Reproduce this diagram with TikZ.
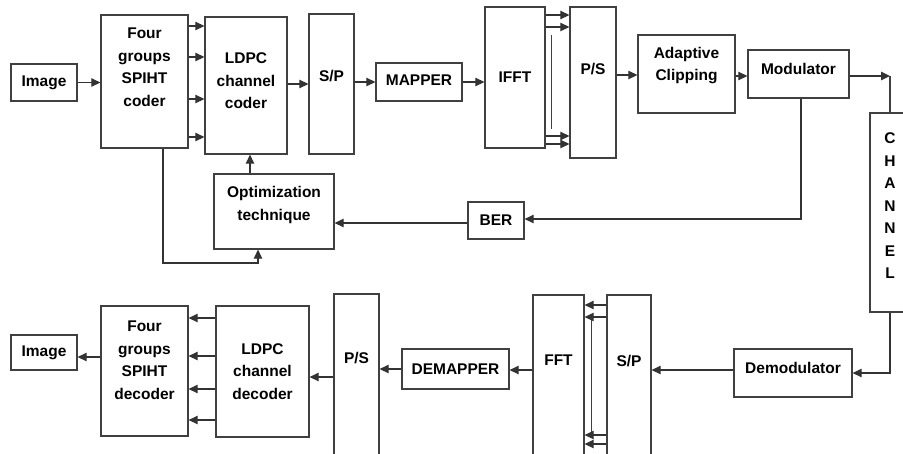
\documentclass[tikz,border=0pt]{standalone}
\usepackage{fontspec}
\setmainfont{Liberation Sans}
\usetikzlibrary{arrows.meta,calc}

\tikzset{
  blk/.style={draw=black!75, line width=1.3pt, fill=white, inner sep=0pt},
  txt/.style={font=\fontsize{15.5pt}{22.5pt}\selectfont\bfseries, align=center},
  arr/.style={draw=black!80, line width=1.2pt, -{Triangle[length=9pt,width=8.5pt]}},
  ln/.style={draw=black!75, line width=1.2pt}
}

\begin{document}
\begin{tikzpicture}[x=1pt, y=-1pt]
  \useasboundingbox (0,0) rectangle (903,453);

  % transmitter
  \node[blk, minimum width=66pt, minimum height=37pt, label={[txt]center:Image}] (img1) at (44,82.5) {};
  \node[blk, minimum width=87pt, minimum height=133pt, label={[txt, yshift=14.5pt]center:Four\\groups\\SPIHT\\coder}] (spc) at (144.5,81.5) {};
  \node[blk, minimum width=82pt, minimum height=137pt, label={[txt, yshift=4.5pt]center:LDPC\\channel\\coder}] (ldc) at (246,85.5) {};
  \node[blk, minimum width=45pt, minimum height=140pt, label={[txt, yshift=8pt]center:S/P}] (sp1) at (331.5,84) {};
  \node[blk, minimum width=86pt, minimum height=38pt, label={[txt, yshift=2pt]center:MAPPER}] (map) at (419,82) {};
  \node[blk, minimum width=60pt, minimum height=141pt, label={[txt]center:IFFT}] (ifft) at (515,77.5) {};
  \node[blk, minimum width=46pt, minimum height=151pt, label={[txt, yshift=13pt]center:P/S}] (ps1) at (593,82.5) {};
  \node[blk, minimum width=97pt, minimum height=78pt, label={[txt, yshift=8.5pt]center:Adaptive\\Clipping}] (clip) at (686.5,74) {};
  \node[blk, minimum width=101pt, minimum height=48pt, label={[txt, yshift=5pt]center:Modulator}] (mod) at (798.5,74) {};
  \node[blk, minimum width=40pt, minimum height=199pt, label={[txt, yshift=6.5pt]center:C\\H\\A\\N\\N\\E\\L}] (chan) at (890,212.5) {};
  \node[blk, minimum width=56pt, minimum height=37pt, label={[txt]center:BER}] (ber) at (496,220.5) {};
  \node[blk, minimum width=120pt, minimum height=75pt, label={[txt, yshift=6.5pt]center:Optimization\\technique}] (opt) at (274,211.5) {};

  % receiver
  \node[blk, minimum width=118pt, minimum height=48pt, label={[txt, yshift=5.5pt]center:Demodulator}] (demod) at (793,373) {};
  \node[blk, minimum width=44pt, minimum height=165pt, label={[txt, yshift=16pt]center:S/P}] (sp2) at (629,377.5) {};
  \node[blk, minimum width=51pt, minimum height=165pt, label={[txt, yshift=17.5pt]center:FFT}] (fft) at (558.5,377.5) {};
  \node[blk, minimum width=107pt, minimum height=40pt, label={[txt]center:DEMAPPER}] (dmap) at (455.5,369) {};
  \node[blk, minimum width=45pt, minimum height=166pt, label={[txt, yshift=18.5pt]center:P/S}] (ps2) at (356.5,377) {};
  \node[blk, minimum width=93pt, minimum height=131pt, label={[txt]center:LDPC\\channel\\decoder}] (ldd) at (262.5,371.5) {};
  \node[blk, minimum width=87pt, minimum height=130pt, label={[txt, yshift=11pt]center:Four\\groups\\SPIHT\\decoder}] (spd) at (144.5,371) {};
  \node[blk, minimum width=66pt, minimum height=35pt, label={[txt]center:Image}] (img2) at (44,352.5) {};

  % forward path
  \draw[arr] (img1.east) -- (img1.east -| spc.west);
  \foreach \yy in {26,57,99,137}
    \draw[arr] (spc.east |- 0,\yy) -- (ldc.west |- 0,\yy);
  \draw[arr] (ldc.east |- 0,84) -- (sp1.west |- 0,84);
  \draw[arr] (sp1.east |- 0,82) -- (map.west |- 0,82);
  \draw[arr] (map.east) -- (map.east -| ifft.west);
  \foreach \yy in {15,27,136,144}
    \draw[arr] (ifft.east |- 0,\yy) -- (ps1.west |- 0,\yy);
  \draw[ln] ($(ifft.north east)+(6,29)$) -- ($(ifft.south east)+(6,-20)$);
  \draw[arr] (ps1.east |- 0,75) -- (clip.west |- 0,75);
  \draw[arr] (clip.east |- 0,76) -- (mod.west |- 0,76);
  \coordinate (chtop) at (chan.north |- 0,76);
  \draw[arr] (mod.east |- 0,76) -- (chtop);
  \draw[ln] (chtop) -- (chan.north);

  % feedback
  \draw[arr] (mod.south -| 801,0) |- (ber.east |- 0,219);
  \draw[arr] (ber.west |- 0,223) -- (opt.east |- 0,223);
  \draw[arr] (opt.north -| 250,0) -- (ldc.south -| 250,0);
  \draw[arr] (spc.south -| 163,0) |- (258,263) -- (opt.south -| 258,0);

  % receive path
  \draw[arr] (chan.south) |- (demod.east);
  \draw[arr] (demod.west |- 0,370) -- (sp2.east |- 0,370);
  \foreach \yy in {305,317,435,444}
    \draw[arr] (sp2.west |- 0,\yy) -- (fft.east |- 0,\yy);
  \draw[ln] (fft.east |- 0,320) ++(7,0) -- ++(0,112);
  \draw[arr] (fft.west |- 0,370) -- (dmap.east |- 0,370);
  \draw[arr] (dmap.west |- 0,369) -- (ps2.east |- 0,369);
  \draw[arr] (ps2.west |- 0,377) -- (ldd.east |- 0,377);
  \foreach \yy in {318,356,389,420}
    \draw[arr] (ldd.west |- 0,\yy) -- (spd.east |- 0,\yy);
  \draw[arr] (spd.west |- 0,357) -- (img2.east |- 0,357);
\end{tikzpicture}
\end{document}
